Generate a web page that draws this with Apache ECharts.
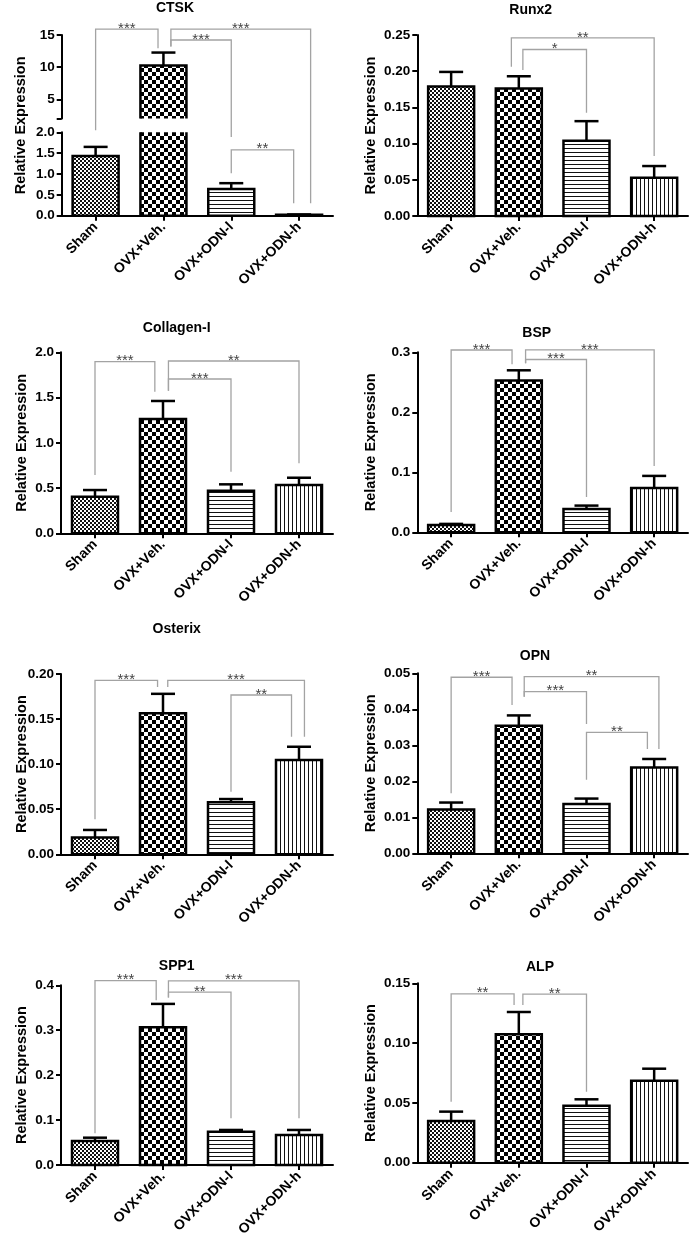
<!DOCTYPE html>
<html><head><meta charset="utf-8">
<script src="https://cdn.jsdelivr.net/npm/echarts@6/dist/echarts.min.js"></script>
<style>html,body{margin:0;padding:0;background:#fff}#c{width:697px;height:1246px}</style>
</head><body><div id="c"></div>
<script>
// ---------------- DATA ----------------
const groups = ['Sham', 'OVX+Veh.', 'OVX+ODN-l', 'OVX+ODN-h'];
const genes = ['CTSK', 'Runx2', 'Collagen-I', 'BSP', 'Osterix', 'OPN', 'SPP1', 'ALP'];

const ctskMean = [1.43, 10.25, 0.64, 0.02];
const ctskSem = [0.22, 2.02, 0.14, 0.01];
const runx2Mean = [0.179, 0.176, 0.104, 0.053];
const runx2Sem = [0.020, 0.017, 0.027, 0.016];
const collagenMean = [0.404, 1.263, 0.471, 0.534];
const collagenSem = [0.074, 0.199, 0.070, 0.080];
const bspMean = [0.012, 0.253, 0.039, 0.074];
const bspSem = [0.002, 0.017, 0.0055, 0.020];
const osterixMean = [0.0185, 0.1564, 0.0577, 0.1046];
const osterixSem = [0.0085, 0.0216, 0.0036, 0.0147];
const opnMean = [0.0122, 0.0354, 0.0137, 0.0238];
const opnSem = [0.0019, 0.0029, 0.0015, 0.0024];
const spp1Mean = [0.0534, 0.3066, 0.0742, 0.0668];
const spp1Sem = [0.0074, 0.052, 0.0038, 0.0112];
const alpMean = [0.0349, 0.1074, 0.0477, 0.0686];
const alpSem = [0.0078, 0.0186, 0.0053, 0.010];

// y axis ranges / ticks (panel order as genes)
const yMax = [2, 0.25, 2.0, 0.3, 0.20, 0.05, 0.4, 0.15];
const yStep = [0.5, 0.05, 0.5, 0.1, 0.05, 0.01, 0.1, 0.05];
const yDecimals = [1, 2, 1, 1, 2, 2, 1, 2];
// CTSK broken axis upper segment
const ctskUpperMin = 2, ctskUpperMax = 15;
const ctskUpperLabels = [5, 10, 15];
const ctskUpperTicks = [2, 5, 10, 15];

// significance brackets: [fromPos, toPos, level, fromDrop, toDrop, label]
// positions in category units (fraction = shift within the band)
const ctskBr = [
  [0, 0.92, 15.9, 2.05, 12.93, '***'],
  [1.11, 3.17, 15.9, 13.2, 0.30, '***'],
  [1.11, 2, 14.22, 13.2, 1.89, '***'],
  [2, 2.92, 1.58, 1.02, 0.30, '**']
];
const runx2Br = [
  [0.89, 3, 0.246, 0.206, 0.083, '**'],
  [1.06, 2, 0.230, 0.2017, 0.1427, '*']
];
const collagenBr = [
  [0, 0.88, 1.897, 0.644, 1.565, '***'],
  [1.08, 3, 1.904, 1.576, 0.773, '**'],
  [1.08, 2, 1.705, 1.576, 0.681, '***']
];
const bspBr = [
  [0, 0.90, 0.3038, 0.034, 0.28, '***'],
  [1.10, 3, 0.304, 0.2817, 0.1105, '***'],
  [1.10, 2, 0.288, 0.2817, 0.059, '***']
];
const osterixBr = [
  [0, 0.92, 0.193, 0.0388, 0.1856, '***'],
  [1.07, 3.08, 0.193, 0.1856, 0.1305, '***'],
  [2, 2.89, 0.1767, 0.0695, 0.1305, '**']
];
const opnBr = [
  [0, 0.90, 0.0489, 0.0167, 0.0412, '***'],
  [1.08, 3.07, 0.0491, 0.0435, 0.029, '**'],
  [1.08, 2, 0.0449, 0.0435, 0.0359, '***'],
  [2, 2.90, 0.0336, 0.0204, 0.029, '**']
];
const spp1Br = [
  [0, 0.90, 0.4104, 0.0705, 0.367, '***'],
  [1.08, 3, 0.41, 0.373, 0.104, '***'],
  [1.08, 2, 0.3846, 0.373, 0.104, '**']
];
const alpBr = [
  [0, 0.93, 0.1412, 0.051, 0.1319, '**'],
  [1.06, 2, 0.141, 0.1319, 0.0594, '**']
];

const means = [ctskMean, runx2Mean, collagenMean, bspMean, osterixMean, opnMean, spp1Mean, alpMean];
const sems = [ctskSem, runx2Sem, collagenSem, bspSem, osterixSem, opnSem, spp1Sem, alpSem];
const brackets = [ctskBr, runx2Br, collagenBr, bspBr, osterixBr, opnBr, spp1Br, alpBr];

// ---------------- LAYOUT / STYLE ----------------
const FONT = '"Liberation Sans", Arial, Helvetica, sans-serif';
const layout = [
  {x: 61.7, w: 271.3, top: 35, bot: 215.7, tx: 175, ty: 8},
  {x: 417.3, w: 270.7, top: 35, bot: 216, tx: 530.7, ty: 10},
  {x: 61, w: 272, top: 352.3, bot: 533.3, tx: 176.7, ty: 328},
  {x: 417.3, w: 270.7, top: 352.3, bot: 532.3, tx: 536.7, ty: 333.3},
  {x: 61, w: 272, top: 674, bot: 854.3, tx: 176.7, ty: 629},
  {x: 417.3, w: 270.7, top: 673.3, bot: 853.3, tx: 535, ty: 656},
  {x: 61, w: 272, top: 985.3, bot: 1165, tx: 176.7, ty: 966},
  {x: 417.3, w: 270.7, top: 983.3, bot: 1162.7, tx: 540, ty: 967}
];
const ctskLowerTop = 132.3, ctskUpperBot = 118.6;

function mkPattern(kind) {
  const c = document.createElement('canvas');
  const g = c.getContext('2d');
  if (kind === 'fine') {
    c.width = c.height = 4;
    g.fillStyle = '#fff'; g.fillRect(0, 0, 4, 4);
    g.fillStyle = '#111'; g.fillRect(0, 0, 2, 2); g.fillRect(2, 2, 2, 2);
  } else if (kind === 'coarse') {
    c.width = c.height = 8;
    g.fillStyle = '#fff'; g.fillRect(0, 0, 8, 8);
    g.fillStyle = '#000'; g.fillRect(0, 0, 4, 4); g.fillRect(4, 4, 4, 4);
  } else if (kind === 'h') {
    c.width = c.height = 4;
    g.fillStyle = '#fff'; g.fillRect(0, 0, 4, 4);
    g.fillStyle = '#111'; g.fillRect(0, 0, 4, 1);
  } else {
    c.width = c.height = 4;
    g.fillStyle = '#fff'; g.fillRect(0, 0, 4, 4);
    g.fillStyle = '#111'; g.fillRect(0, 0, 1, 4);
  }
  return {image: c, repeat: 'repeat'};
}
const patterns = [mkPattern('fine'), mkPattern('coarse'), mkPattern('h'), mkPattern('v')];
const BAR_W = 46, CAP_W = 24, LW = 2.5;

function renderBar(params, api) {
  const cs = params.coordSys;
  const i = api.value(0), m = api.value(1), e = api.value(2);
  const c = api.coord([i, m]);
  const b = api.coord([i, 0]);
  const ce = api.coord([i, e]);
  const gTop = cs.y, gBot = cs.y + cs.height;
  let yT = c[1], yB = b[1];
  if (yT > gBot + 0.01 || yB < gTop - 0.01) return {type: 'group', children: []};
  const topClip = yT < gTop - 0.01, botClip = yB > gBot + 0.01;
  yT = Math.max(yT, gTop); yB = Math.min(yB, gBot);
  const x0 = c[0] - BAR_W / 2, x1 = c[0] + BAR_W / 2;
  const st = {stroke: '#000', lineWidth: LW, fill: null, lineJoin: 'miter'};
  const ch = [];
  ch.push({type: 'rect', shape: {x: x0, y: yT, width: BAR_W, height: Math.max(yB - yT, 0.01)},
    style: {fill: patterns[params.dataIndex]}});
  if (!topClip && !botClip) {
    ch.push({type: 'polygon', shape: {points: [[x0, yB], [x0, yT], [x1, yT], [x1, yB]]}, style: st});
  } else if (topClip && !botClip) {
    ch.push({type: 'polyline', shape: {points: [[x0, yT], [x0, yB], [x1, yB], [x1, yT]]}, style: st});
  } else if (!topClip && botClip) {
    ch.push({type: 'polyline', shape: {points: [[x0, yB], [x0, yT], [x1, yT], [x1, yB]]}, style: st});
  } else {
    ch.push({type: 'line', shape: {x1: x0, y1: yT, x2: x0, y2: yB}, style: st});
    ch.push({type: 'line', shape: {x1: x1, y1: yT, x2: x1, y2: yB}, style: st});
  }
  if (!topClip) {
    ch.push({type: 'line', shape: {x1: c[0], y1: yT, x2: c[0], y2: ce[1]}, style: {stroke: '#000', lineWidth: LW}});
    ch.push({type: 'line', shape: {x1: c[0] - CAP_W / 2, y1: ce[1], x2: c[0] + CAP_W / 2, y2: ce[1]}, style: {stroke: '#000', lineWidth: LW}});
  }
  return {type: 'group', children: ch};
}

const grids = [], xAxes = [], yAxes = [], series = [];
const axisLineStyle = {color: '#000', width: 2};
function addGrid(left, top, width, height) {
  grids.push({left: left, top: top, width: width, height: height, containLabel: false, outerBoundsMode: 'none'});
  return grids.length - 1;
}
function addX(gi, show) {
  xAxes.push({
    gridIndex: gi, type: 'category', data: groups, show: show, boundaryGap: true,
    axisLine: {show: true, onZero: false, lineStyle: axisLineStyle},
    axisTick: {show: true, alignWithLabel: true, length: 5, lineStyle: axisLineStyle},
    axisLabel: {rotate: 45, interval: 0, margin: 9, color: '#000', fontWeight: 'bold', fontSize: 14, fontFamily: FONT},
    splitLine: {show: false}
  });
}
function addSeries(gi, p) {
  series.push({
    type: 'custom', xAxisIndex: gi, yAxisIndex: gi, clip: false, silent: true,
    renderItem: renderBar,
    data: means[p].map((v, i) => [i, v, v + sems[p][i]])
  });
}
const yLabelStyle = {color: '#000', fontWeight: 'bold', fontSize: 13.5, fontFamily: FONT, margin: 7};

// panel 0: CTSK with broken axis
const gLow = addGrid(layout[0].x, ctskLowerTop, layout[0].w, layout[0].bot - ctskLowerTop);
const gUp = addGrid(layout[0].x, layout[0].top, layout[0].w, ctskUpperBot - layout[0].top);
addX(gLow, true); addX(gUp, false);
yAxes.push({
  gridIndex: gLow, type: 'value', min: 0, max: yMax[0], interval: yStep[0],
  axisLine: {show: true, lineStyle: axisLineStyle},
  axisTick: {show: true, length: 5, lineStyle: axisLineStyle},
  axisLabel: Object.assign({formatter: v => v.toFixed(yDecimals[0])}, yLabelStyle),
  splitLine: {show: false}
});
yAxes.push({
  gridIndex: gUp, type: 'value', min: ctskUpperMin, max: ctskUpperMax,
  axisLine: {show: true, lineStyle: axisLineStyle},
  axisTick: {show: true, length: 5, lineStyle: axisLineStyle, customValues: ctskUpperTicks},
  axisLabel: Object.assign({formatter: v => v.toFixed(0), customValues: ctskUpperLabels}, yLabelStyle),
  splitLine: {show: false}
});
addSeries(gLow, 0); addSeries(gUp, 0);

const gridOf = [gLow];
for (let p = 1; p < 8; p++) {
  const L = layout[p];
  const gi = addGrid(L.x, L.top, L.w, L.bot - L.top);
  gridOf.push(gi);
  addX(gi, true);
  const left = L.x < 200;
  yAxes.push({
    gridIndex: gi, type: 'value', min: 0, max: yMax[p], interval: yStep[p],
    axisLine: {show: true, lineStyle: axisLineStyle},
    axisTick: {show: true, length: 5, lineStyle: axisLineStyle},
    axisLabel: Object.assign({formatter: (d => v => v.toFixed(d))(yDecimals[p])}, yLabelStyle),
    splitLine: {show: false},
    name: 'Relative Expression', nameLocation: 'middle', nameRotate: 90, nameMoveOverlap: false,
    nameGap: left ? 32 : 39,
    nameTextStyle: {color: '#000', fontWeight: 'bold', fontSize: 14.5, fontFamily: FONT}
  });
  addSeries(gi, p);
}

const chart = echarts.init(document.getElementById('c'), null, {renderer: 'canvas'});
chart.setOption({animation: false, backgroundColor: '#fff', grid: grids, xAxis: xAxes, yAxis: yAxes, series: series});

// ---------------- annotations ----------------
const graphics = [];
for (let p = 0; p < 8; p++) {
  graphics.push({type: 'text', x: layout[p].tx, y: layout[p].ty, silent: true,
    style: {text: genes[p], fill: '#000', fontSize: 14, fontWeight: 'bold', fontFamily: FONT, align: 'center', verticalAlign: 'middle'}});
}
graphics.push({type: 'text', x: 20.7, y: (layout[0].top + layout[0].bot) / 2, rotation: Math.PI / 2, silent: true,
  style: {text: 'Relative Expression', fill: '#000', fontSize: 14.5, fontWeight: 'bold', fontFamily: FONT, align: 'center', verticalAlign: 'middle'}});

function pix(p, pos, val) {
  let gi = gridOf[p];
  if (p === 0 && val >= 2.5) gi = gUp;
  const idx = Math.round(pos), frac = pos - idx;
  const finder = {xAxisIndex: gi, yAxisIndex: gi};
  const a = chart.convertToPixel(finder, [idx, val]);
  const a0 = chart.convertToPixel(finder, [0, val]);
  const a1 = chart.convertToPixel(finder, [1, val]);
  return [a[0] + frac * (a1[0] - a0[0]), a[1]];
}
for (let p = 0; p < 8; p++) {
  brackets[p].forEach(br => {
    const [f, t, lev, d1, d2, lab] = br;
    const A = pix(p, f, d1), B = pix(p, f, lev), C = pix(p, t, lev), D = pix(p, t, d2);
    graphics.push({type: 'polyline', silent: true, shape: {points: [A, B, C, D]},
      style: {stroke: '#a3a3a3', lineWidth: 1.3, fill: null}});
    graphics.push({type: 'text', x: (B[0] + C[0]) / 2, y: B[1] + 7, silent: true,
      style: {text: lab, fill: '#444', fontSize: 15, fontFamily: FONT, align: 'center', verticalAlign: 'bottom'}});
  });
}
chart.setOption({graphic: graphics});
</script>
</body></html>
